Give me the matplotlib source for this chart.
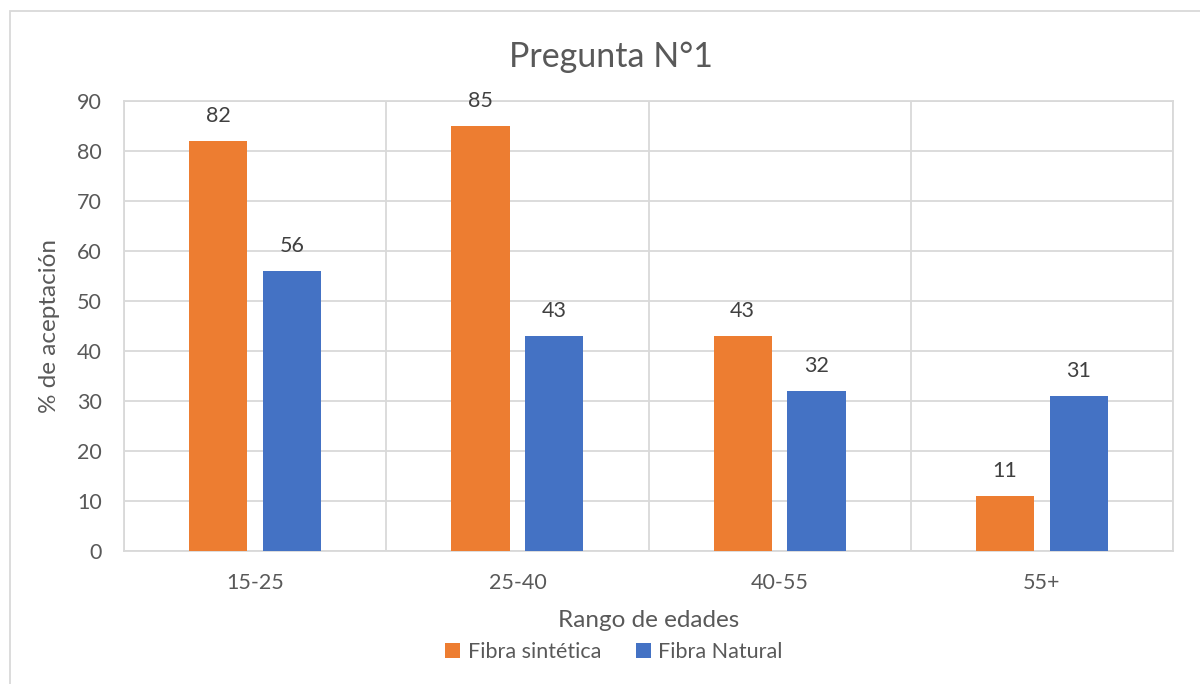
import matplotlib
matplotlib.use("Agg")
import matplotlib.pyplot as plt
import numpy as np
from matplotlib.patches import Rectangle

categories = ["15-25", "25-40", "40-55", "55+"]
sintetica = [82, 85, 43, 11]
natural = [56, 43, 32, 31]
series_names = ["Fibra sintética", "Fibra Natural"]
yticks = [0, 10, 20, 30, 40, 50, 60, 70, 80, 90]

ORANGE = "#ED7D31"
BLUE = "#4472C4"
TEXT = "#595959"
GRID = "#D9D9D9"

plt.rcParams["font.family"] = ["Lato", "DejaVu Sans"]

fig = plt.figure(figsize=(12, 6.84), dpi=100)
ax = fig.add_axes([124 / 1200, 1 - 551 / 684, (1173 - 124) / 1200, (551 - 101) / 684])

x = np.arange(len(categories))
w = 0.222
off = 0.141
b1 = ax.bar(x - off, sintetica, w, color=ORANGE, label=series_names[0], zorder=3)
b2 = ax.bar(x + off, natural, w, color=BLUE, label=series_names[1], zorder=3)

for bars, vals in ((b1, sintetica), (b2, natural)):
    for r, v in zip(bars, vals):
        ax.annotate(f"{v}", (r.get_x() + r.get_width() / 2, v), xytext=(0, 11),
                    textcoords="offset points", ha="center", va="bottom",
                    fontsize=15.5, color="#404040")

ax.set_xlim(-0.5, len(categories) - 0.5)
ax.set_ylim(0, 90)
ax.set_yticks(yticks)
ax.set_yticklabels([str(t) for t in yticks])
ax.set_xticks(x)
ax.set_xticklabels(categories)

# horizontal grid and category separators
ax.yaxis.grid(True, color=GRID, linewidth=1.3, zorder=0)
for b in np.arange(-0.5, len(categories) + 0.5, 1):
    ax.axvline(b, color=GRID, linewidth=1.3, zorder=0)
for s in ax.spines.values():
    s.set_color(GRID)
    s.set_linewidth(1.3)

ax.tick_params(axis="both", length=0, labelsize=15.5, colors=TEXT)
ax.tick_params(axis="y", pad=16)
ax.tick_params(axis="x", pad=16)

ax.set_xlabel("Rango de edades", fontsize=17.5, color=TEXT, labelpad=12)
ax.set_ylabel("% de aceptación", fontsize=17.5, color=TEXT, labelpad=12)
fig.text(611 / 1200, 1 - 57 / 684, "Pregunta N°1", ha="center", va="center",
         fontsize=24.5, color=TEXT)

leg = fig.legend(handles=[b1, b2], labels=series_names, loc="center",
                 bbox_to_anchor=(614 / 1200, 1 - 652 / 684), ncol=2, frameon=False,
                 fontsize=15.5, handlelength=0.7, handleheight=0.7,
                 handletextpad=0.35, columnspacing=1.6)
for t in leg.get_texts():
    t.set_color(TEXT)

# chart area border
fig.add_artist(Rectangle((9.5 / 1200, -0.01), 1.02, 1 - 10.5 / 684 + 0.01,
                         transform=fig.transFigure, fill=False,
                         edgecolor=GRID, linewidth=1.3))

fig.savefig("out.png", dpi=100, facecolor="white")
